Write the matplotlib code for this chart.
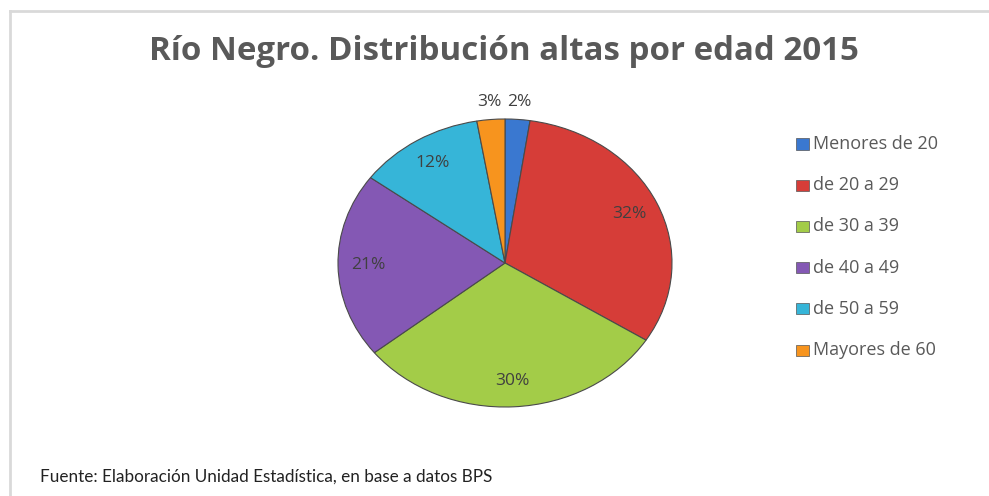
import numpy as np
import matplotlib
matplotlib.use("Agg")
import matplotlib.pyplot as plt
from matplotlib.patches import Rectangle
from matplotlib.lines import Line2D

categories = ["Menores de 20", "de 20 a 29", "de 30 a 39", "de 40 a 49", "de 50 a 59", "Mayores de 60"]
values = [2.4, 31.6, 30.3, 20.8, 12.2, 2.7]
colors = ["#3A78D0", "#D63D38", "#A3CC48", "#8458B4", "#36B5D8", "#F7941E"]
title = "Río Negro. Distribución altas por edad 2015"
source = "Fuente: Elaboración Unidad Estadística, en base a datos BPS"

W, H = 989, 496
fig = plt.figure(figsize=(W / 100, H / 100), dpi=100)
fig.patch.set_facecolor("white")

# border lines (top and left)
fig.add_artist(Line2D([10 / W, 1], [1 - 11 / H, 1 - 11 / H], color="#d9d9d9", lw=2, transform=fig.transFigure))
fig.add_artist(Line2D([10 / W, 10 / W], [1 - 11 / H, 0], color="#d9d9d9", lw=2, transform=fig.transFigure))

# pie axes: x radius 167px, y radius 144px, center (505, 263)
cx, cy, rx, ry = 505, 263, 167, 144
aw, ah = 2.5 * rx, 2.5 * ry
ax = fig.add_axes([(cx - aw / 2) / W, (H - cy - ah / 2) / H, aw / W, ah / H])
wedges, texts, autotexts = ax.pie(
    values, colors=colors, startangle=90, counterclock=False,
    autopct="%.0f%%", pctdistance=0.82,
    wedgeprops=dict(edgecolor="#4a4a4a", linewidth=0.8),
    textprops=dict(fontsize=12.5, color="#404040", family="Open Sans"),
)
ax.set_aspect("auto")
ax.set_xlim(-1.25, 1.25)
ax.set_ylim(-1.25, 1.25)

# small slices: labels outside above the pie
for w, t, v in zip(wedges, autotexts, values):
    if v < 5:
        ang = np.deg2rad((w.theta1 + w.theta2) / 2)
        t.set_position((1.12 * np.cos(ang), 1.12 * np.sin(ang)))

fig.text(504 / W, 1 - 52 / H, title, ha="center", va="center", fontsize=23.8,
         fontweight="bold", color="#595959", family="Open Sans")

# legend
y0, dy = 144, 41.2
for i, (c, lab) in enumerate(zip(colors, categories)):
    y = y0 + i * dy
    fig.add_artist(Rectangle((796 / W, 1 - (y + 5.5) / H), 13 / W, 11 / H,
                             facecolor=c, edgecolor="#555555", lw=0.5, transform=fig.transFigure))
    fig.text(813 / W, 1 - y / H, lab, ha="left", va="center", fontsize=13,
             color="#595959", family="Open Sans")

fig.text(40 / W, 1 - 477 / H, source, ha="left", va="center", fontsize=12.3,
         color="#222222", family="Lato")

fig.savefig("out.png", dpi=100)
